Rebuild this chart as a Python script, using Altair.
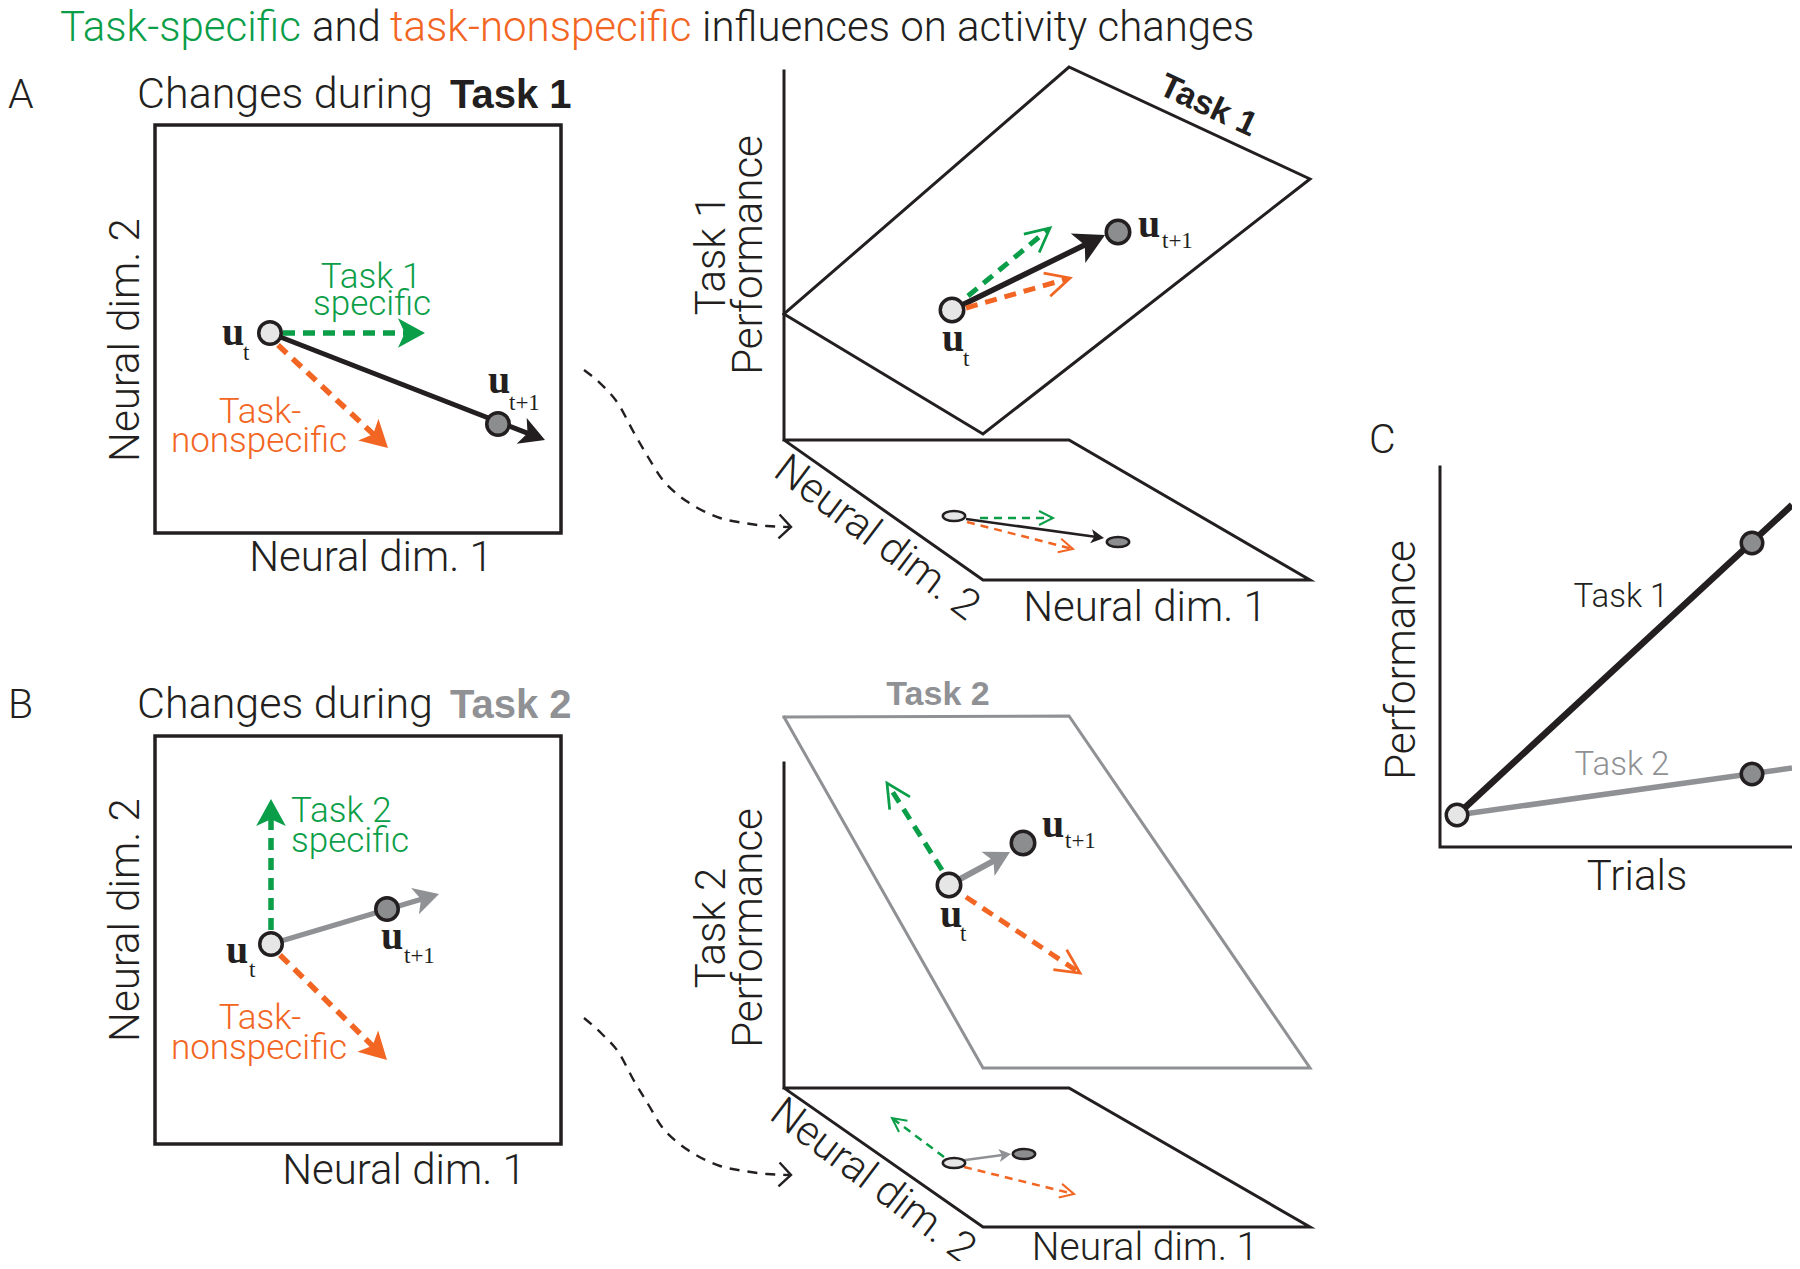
import math
import altair as alt
import pandas as pd

# ---------------- palette ----------------
GREEN = "#0b9e48"
ORANGE = "#f26522"
GRAY = "#8f9194"
INK = "#231f20"
LIGHT = "#e6e6e6"
DARK = "#8c8d8f"
SANS = "Roboto"
SANS_BOLD = "Liberation Sans"
SERIF = "Liberation Serif"
LIGHT_WEIGHT = 300

# ------------- canvas (page pixel coordinates) -------------
X_DOMAIN = [8, 1792]
Y_DOMAIN = [8, 1261]

# ------------- neural-space squares of panels A and B -------------
BOX_X0 = [155, 155]
BOX_X1 = [561, 561]
BOX_Y0 = [125, 736]
BOX_Y1 = [533, 1144]

# ------------- frame polylines (3-D planes, axes) -------------
POLY_NAMES = ["A_floor", "A_task1", "B_task2", "B_floor", "C_axes"]
POLY_COLORS = [INK, INK, GRAY, INK, INK]
POLY_WIDTHS = [3, 3, 3, 3, 3]
POLY_X = [
    [784, 784, 1069, 1310, 983, 784],
    [784, 1069, 1310, 983, 784],
    [784, 1069, 1310, 983, 784],
    [784, 784, 1069, 1310, 983, 784],
    [1440, 1440, 1792],
]
POLY_Y = [
    [71, 440, 440, 580, 580, 440],
    [314, 67, 179, 434, 314],
    [717, 716, 1068, 1068, 717],
    [763, 1088, 1088, 1227, 1227, 1088],
    [467, 847, 847],
]

# ------------- dashed projection curves -------------
CURVE_A_X = [584, 602, 619, 633, 648, 662, 677, 696, 720, 744, 767, 789]
CURVE_A_Y = [370, 385, 405, 431, 457, 479, 494, 507, 518, 523, 526, 527]
CURVE_B_X = [584, 602, 619, 633, 648, 662, 677, 696, 720, 744, 767, 789]
CURVE_B_Y = [1018, 1034, 1053, 1079, 1104, 1127, 1142, 1155, 1166, 1171, 1174, 1175]

# ------------- panel C performance lines -------------
TRIAL_X = [1457, 1792]
TASK1_PERF = [815, 505]
TASK2_PERF = [815, 768]

# ------------- arrows: start, tip, colour, width, line style, head, head length -------------
ARROWS = [
    (270, 333, 545, 440, INK, 5, "solid", "swept", 25),
    (283, 333, 425, 333, GREEN, 5.5, "dash", "swept", 27),
    (278, 345, 388, 448, ORANGE, 5.5, "dash", "swept", 27),
    (952, 310, 1105, 235, INK, 5.5, "solid", "swept", 30),
    (968, 296, 1050, 228, GREEN, 5, "dash", "open", 24),
    (966, 308, 1070, 278, ORANGE, 5, "dash", "open", 24),
    (966, 519, 1104, 538, INK, 2.5, "solid", "swept", 13),
    (980, 518, 1053, 518, GREEN, 2.5, "thin", "open", 14),
    (967, 522, 1073, 549, ORANGE, 2.5, "thin", "open", 14),
    (271, 944, 439, 894, GRAY, 5, "solid", "swept", 25),
    (271, 930, 271, 799, GREEN, 5.5, "dash", "swept", 27),
    (280, 955, 387, 1060, ORANGE, 5.5, "dash", "swept", 27),
    (949, 885, 1010, 852, GRAY, 6, "solid", "swept", 25),
    (942, 870, 887, 783, GREEN, 5, "dash", "open", 24),
    (966, 897, 1080, 973, ORANGE, 5, "dash", "open", 24),
    (958, 1161, 1011, 1154, GRAY, 2.5, "solid", "swept", 12),
    (944, 1157, 892, 1118, GREEN, 2.5, "thin", "open", 14),
    (964, 1167, 1074, 1194, ORANGE, 2.5, "thin", "open", 14),
]

# ------------- activity states (circles) -------------
CIRCLE_X = [270, 498, 952, 1118, 271, 387, 949, 1023, 1457, 1752, 1752]
CIRCLE_Y = [333, 424, 310, 232, 944, 909, 885, 843, 815, 543, 774]
CIRCLE_FILL = [LIGHT, DARK, LIGHT, DARK, LIGHT, DARK, LIGHT, DARK, LIGHT, DARK, DARK]
CIRCLE_D = [26, 26, 27, 27, 26, 26, 27, 27, 25, 25, 25]

# ------------- projected states (ellipses on floor planes) -------------
ELL_X = [954, 1118, 954, 1024]
ELL_Y = [516, 542, 1163, 1154]
ELL_FILL = [LIGHT, DARK, LIGHT, DARK]

# ------------- texts -------------
# light sans, centred, alphabetic baseline: text, x, y, size, colour
TXT_CENTER = [
    ("Neural dim. 1", 371, 571, 42, INK),
    ("Neural dim. 1", 404, 1184, 42, INK),
    ("Neural dim. 1", 1145, 621, 42, INK),
    ("Neural dim. 1", 1145, 1260, 39, INK),
    ("Trials", 1637, 890, 42, INK),
    ("Task 1", 371, 288, 35, GREEN),
    ("specific", 372, 315, 35, GREEN),
    ("Task-", 260, 423, 35, ORANGE),
    ("nonspecific", 259, 452, 35, ORANGE),
    ("Task-", 260, 1029, 35, ORANGE),
    ("nonspecific", 259, 1059, 35, ORANGE),
    ("Task 1", 1621, 607, 33, INK),
    ("Task 2", 1622, 775, 33, GRAY),
    ("Changes during", 285, 108, 43, INK),
    ("Changes during", 285, 718, 43, INK),
]
# light sans, centred, middle baseline, rotated: text, x, y, size, colour, angle
TXT_ROT = [
    ("Neural dim. 2", 126, 340, 42, INK, 270),
    ("Neural dim. 2", 126, 920, 42, INK, 270),
    ("Task 1", 712, 255, 42, INK, 270),
    ("Performance", 749, 255, 42, INK, 270),
    ("Task 2", 712, 928, 42, INK, 270),
    ("Performance", 749, 928, 42, INK, 270),
    ("Neural dim. 2", 877, 538, 42, INK, 37),
    ("Neural dim. 2", 873, 1181, 42, INK, 37),
    ("Performance", 1402, 660, 42, INK, 270),
]
# light sans, left aligned
TXT_LEFT = [
    ("A", 8, 108, 41, INK),
    ("B", 8, 718, 41, INK),
    ("C", 1369, 453, 41, INK),
    ("Task 2", 291, 822, 35, GREEN),
    ("specific", 291, 852, 35, GREEN),
    ("Task-specific", 60, 41, 42, GREEN),
    ("and", 312, 41, 42, INK),
    ("task-nonspecific", 390, 41, 42, ORANGE),
    ("influences on activity changes", 702, 41, 42, INK),
]
# bold sans, left aligned
TXT_BOLD_LEFT = [
    ("Task 1", 450, 108, 40, INK),
    ("Task 2", 450, 718, 40, GRAY),
]
# bold sans, centred, middle
TXT_BOLD_ROT = [
    ("Task 1", 1208, 106, 34, INK, 25),
    ("Task 2", 938, 695, 34, GRAY, 0),
]
# state labels: bold serif "u" and its subscript
U_X = [222, 488, 942, 1138, 226, 381, 940, 1042]
U_Y = [345, 393, 351, 237, 963, 949, 927, 837]
SUB_TEXT = ["t", "t+1", "t", "t+1", "t", "t+1", "t", "t+1"]
SUB_X = [243, 509, 963, 1162, 249, 404, 960, 1065]
SUB_Y = [360, 410, 366, 248, 977, 963, 941, 848]

# ------------- symbol shapes -------------
SWEPT = "M 0 0 L -2 -1.1 L -1.5 0 L -2 1.1 Z"
CHEVRON = "M -2 -1 L 0 0 L -2 1"
CURVE_CHEVRON = "M -1 -1 L 0 0 L -1 1"
ELLIPSE = ("M -1 0 C -1 -0.248 -0.552 -0.45 0 -0.45 C 0.552 -0.45 1 -0.248 1 0 "
           "C 1 0.248 0.552 0.45 0 0.45 C -0.552 0.45 -1 0.248 -1 0 Z")

# =====================================================================
xs = alt.Scale(domain=X_DOMAIN, nice=False, zero=False)
ys = alt.Scale(domain=Y_DOMAIN, nice=False, zero=False, reverse=True)


def X(f):
    return alt.X(f, type="quantitative", scale=xs, axis=None)


def Y(f):
    return alt.Y(f, type="quantitative", scale=ys, axis=None)


C_ = alt.Color("c:N", scale=None)
layers = []

# boxes
box_df = pd.DataFrame({"x": BOX_X0, "x2": BOX_X1, "y": BOX_Y0, "y2": BOX_Y1})
layers.append(
    alt.Chart(box_df).mark_rect(fill="white", fillOpacity=0, stroke=INK, strokeWidth=3.5)
    .encode(x=X("x"), x2="x2:Q", y=Y("y"), y2="y2:Q")
)

# polylines
prow = []
for name, col, w, px, py in zip(POLY_NAMES, POLY_COLORS, POLY_WIDTHS, POLY_X, POLY_Y):
    for k, (a, b) in enumerate(zip(px, py)):
        prow.append(dict(id=name, k=k, x=a, y=b, c=col, w=w))
layers.append(
    alt.Chart(pd.DataFrame(prow)).mark_line(strokeJoin="miter", strokeCap="square")
    .encode(x=X("x"), y=Y("y"), detail="id:N", order="k:Q", color=C_,
            strokeWidth=alt.StrokeWidth("w:Q", scale=None))
)

# curves
crow = []
for name, cx, cy in [("A", CURVE_A_X, CURVE_A_Y), ("B", CURVE_B_X, CURVE_B_Y)]:
    for k, (a, b) in enumerate(zip(cx, cy)):
        crow.append(dict(id=name, k=k, x=a, y=b))
layers.append(
    alt.Chart(pd.DataFrame(crow)).mark_line(color=INK, strokeWidth=2.4, strokeDash=[10, 8],
                                            interpolate="monotone")
    .encode(x=X("x"), y=Y("y"), detail="id:N", order="k:Q")
)
chead = []
for cx, cy in [(CURVE_A_X, CURVE_A_Y), (CURVE_B_X, CURVE_B_Y)]:
    ang = math.degrees(math.atan2(cy[-1] - cy[-2], cx[-1] - cx[-2])) % 360
    chead.append(dict(x=cx[-1] + 2, y=cy[-1], a=ang))
layers.append(
    alt.Chart(pd.DataFrame(chead)).mark_point(shape=CURVE_CHEVRON, filled=False, size=576,
                                              color=INK, strokeWidth=2.4, opacity=1)
    .encode(x=X("x"), y=Y("y"), angle=alt.Angle("a:Q", scale=None))
)

# C performance lines
perf_df = pd.DataFrame({
    "x": [TRIAL_X[0], TRIAL_X[0]], "x2": [TRIAL_X[1], TRIAL_X[1]],
    "y": [TASK2_PERF[0], TASK1_PERF[0]], "y2": [TASK2_PERF[1], TASK1_PERF[1]],
    "c": [GRAY, INK], "w": [5.5, 6.5],
})
layers.append(
    alt.Chart(perf_df).mark_rule(strokeCap="butt")
    .encode(x=X("x"), x2="x2:Q", y=Y("y"), y2="y2:Q", color=C_,
            strokeWidth=alt.StrokeWidth("w:Q", scale=None))
)

# arrows
shafts, heads = [], []
for (x0, y0, x1, y1, col, w, style, head, L) in ARROWS:
    dx, dy = x1 - x0, y1 - y0
    d = math.hypot(dx, dy)
    ux, uy = dx / d, dy / d
    back = 0.7 * L if head == "swept" else 0.12 * L
    shafts.append(dict(x=x0, y=y0, x2=x1 - ux * back, y2=y1 - uy * back, c=col, w=w, style=style))
    heads.append(dict(x=x1, y=y1, c=col, a=math.degrees(math.atan2(dy, dx)) % 360,
                      s=L * L, head=head, w=max(2.0, w * 0.55)))
sh = pd.DataFrame(shafts)
hd = pd.DataFrame(heads)
dashes = {"solid": None, "dash": [12, 8], "thin": [8, 6]}
for style, dash in dashes.items():
    sub = sh[sh["style"] == style]
    kw = dict(strokeCap="butt")
    if dash is not None:
        kw["strokeDash"] = dash
    layers.append(
        alt.Chart(sub).mark_rule(**kw)
        .encode(x=X("x"), x2="x2:Q", y=Y("y"), y2="y2:Q", color=C_,
                strokeWidth=alt.StrokeWidth("w:Q", scale=None))
    )
layers.append(
    alt.Chart(hd[hd["head"] == "swept"]).mark_point(shape=SWEPT, filled=True, opacity=1, strokeWidth=0)
    .encode(x=X("x"), y=Y("y"), color=C_, size=alt.Size("s:Q", scale=None),
            angle=alt.Angle("a:Q", scale=None))
)
layers.append(
    alt.Chart(hd[hd["head"] == "open"]).mark_point(shape=CHEVRON, filled=False, opacity=1,
                                                    strokeJoin="miter")
    .encode(x=X("x"), y=Y("y"), color=C_, size=alt.Size("s:Q", scale=None),
            angle=alt.Angle("a:Q", scale=None), strokeWidth=alt.StrokeWidth("w:Q", scale=None))
)

# circles
circ_df = pd.DataFrame({"x": CIRCLE_X, "y": CIRCLE_Y, "c": CIRCLE_FILL,
                        "s": [(d - 3.5) ** 2 for d in CIRCLE_D]})
layers.append(
    alt.Chart(circ_df).mark_point(shape="circle", filled=True, stroke=INK, strokeWidth=3.5, opacity=1)
    .encode(x=X("x"), y=Y("y"), color=C_, size=alt.Size("s:Q", scale=None))
)
ell_df = pd.DataFrame({"x": ELL_X, "y": ELL_Y, "c": ELL_FILL})
layers.append(
    alt.Chart(ell_df).mark_point(shape=ELLIPSE, filled=True, stroke=INK, strokeWidth=2.5,
                                 opacity=1, size=500)
    .encode(x=X("x"), y=Y("y"), color=C_)
)


# texts
def text_layer(rows, font, weight, align, baseline, rotated=False):
    if rotated:
        df = pd.DataFrame(rows, columns=["t", "x", "y", "s", "c", "a"])
    else:
        df = pd.DataFrame(rows, columns=["t", "x", "y", "s", "c"])
        df["a"] = 0
    return (
        alt.Chart(df).mark_text(font=font, fontWeight=weight, align=align, baseline=baseline)
        .encode(x=X("x"), y=Y("y"), text="t:N", color=C_,
                size=alt.Size("s:Q", scale=None), angle=alt.Angle("a:Q", scale=None))
    )


layers.append(text_layer(TXT_CENTER, SANS, LIGHT_WEIGHT, "center", "alphabetic"))
layers.append(text_layer(TXT_ROT, SANS, LIGHT_WEIGHT, "center", "middle", rotated=True))
layers.append(text_layer(TXT_LEFT, SANS, LIGHT_WEIGHT, "left", "alphabetic"))
layers.append(text_layer(TXT_BOLD_LEFT, SANS_BOLD, "bold", "left", "alphabetic"))
layers.append(text_layer(TXT_BOLD_ROT, SANS_BOLD, "bold", "center", "middle", rotated=True))
u_rows = [("u", a, b, 40, INK) for a, b in zip(U_X, U_Y)]
sub_rows = [(t, a, b, 23, INK) for t, a, b in zip(SUB_TEXT, SUB_X, SUB_Y)]
layers.append(text_layer(u_rows, SERIF, "bold", "left", "alphabetic"))
layers.append(text_layer(sub_rows, SERIF, "normal", "left", "alphabetic"))

chart = (
    alt.layer(*layers)
    .properties(width=1784, height=1253, padding=0, autosize=alt.AutoSizeParams(type="none"))
    .configure_view(stroke=None)
)
chart.save("out.html", embed_options={"renderer": "svg", "actions": False})
